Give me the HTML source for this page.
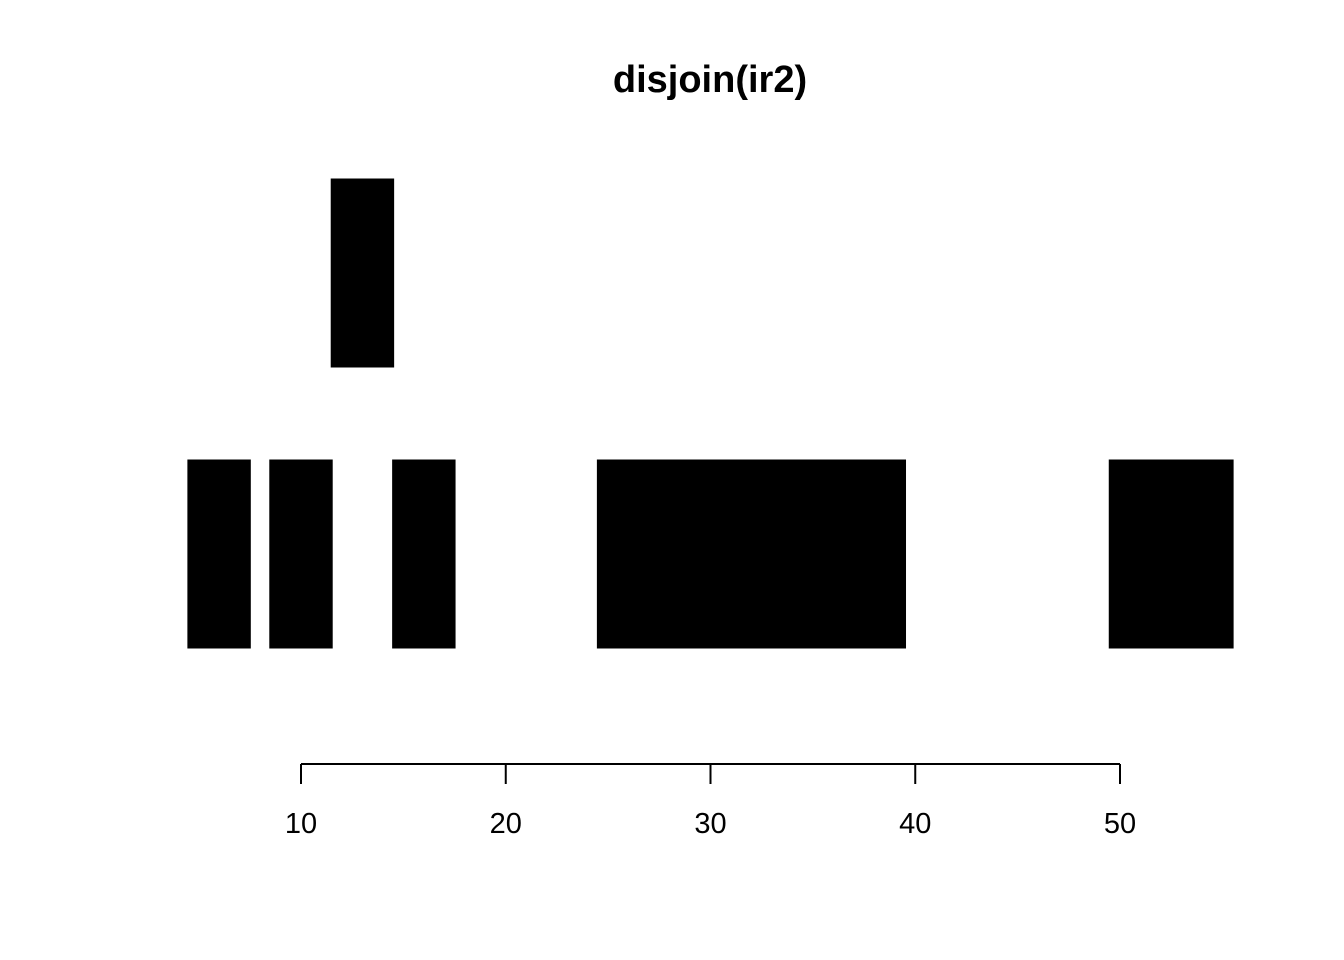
<!DOCTYPE html>
<html><head><meta charset="utf-8"><style>
html,body{margin:0;padding:0;background:#fff;}
svg{display:block;}
</style></head><body>
<svg id="chart" width="1344" height="960" xmlns="http://www.w3.org/2000/svg">
<text x="710" y="92" text-anchor="middle" font-family="Liberation Sans, sans-serif" font-weight="bold" font-size="38">disjoin(ir2)</text>
<g id="bars"></g>
<g id="axis"></g>
</svg>
<script>
const starts = [5, 9, 12, 15, 25, 50];
const ends = [7, 11, 14, 17, 39, 55];
const bins = [1, 1, 2, 1, 1, 1];
const ticks = [10, 20, 30, 40, 50];

const NS = "http://www.w3.org/2000/svg";
function xs(v){ return 301 + (v - 10) * (1120 - 301) / 40; }
function yc(b){ return 554 - (b - 1) * 281; }
const bh = 187;

const gb = document.getElementById('bars');
for (let i = 0; i < starts.length; i++) {
  const r = document.createElementNS(NS, 'rect');
  const x0 = xs(starts[i] - 0.5), x1 = xs(ends[i] + 0.5);
  r.setAttribute('x', x0);
  r.setAttribute('y', yc(bins[i]) - bh / 2);
  r.setAttribute('width', x1 - x0);
  r.setAttribute('height', bh);
  r.setAttribute('fill', '#000');
  r.setAttribute('stroke', '#000');
  r.setAttribute('stroke-width', '2');
  
  
  gb.appendChild(r);
}

const ga = document.getElementById('axis');
const line = document.createElementNS(NS, 'line');
line.setAttribute('x1', xs(ticks[0]));
line.setAttribute('x2', xs(ticks[ticks.length - 1]));
line.setAttribute('y1', 764);
line.setAttribute('y2', 764);
line.setAttribute('stroke', '#000');
line.setAttribute('stroke-width', '2');


ga.appendChild(line);
for (const t of ticks) {
  const tk = document.createElementNS(NS, 'line');
  tk.setAttribute('x1', xs(t)); tk.setAttribute('x2', xs(t));
  tk.setAttribute('y1', 764); tk.setAttribute('y2', 784);
  tk.setAttribute('stroke', '#000'); tk.setAttribute('stroke-width', '2');
  
  
  ga.appendChild(tk);
  const lb = document.createElementNS(NS, 'text');
  lb.setAttribute('x', xs(t)); lb.setAttribute('y', 833);
  lb.setAttribute('text-anchor', 'middle');
  lb.setAttribute('font-family', 'Liberation Sans, sans-serif');
  lb.setAttribute('font-size', '29');
  lb.textContent = t;
  
  
  ga.appendChild(lb);
}
</script>
</body></html>
